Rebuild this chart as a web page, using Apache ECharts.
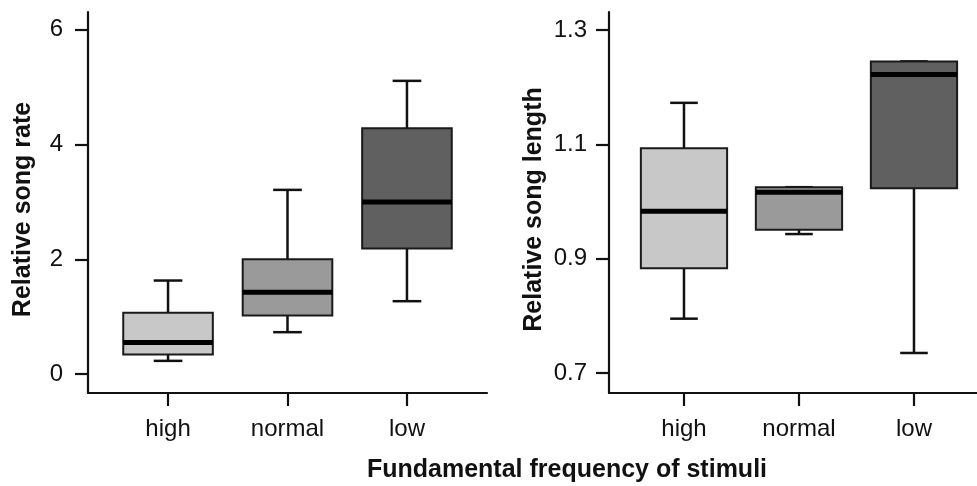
<!DOCTYPE html>
<html>
<head>
<meta charset="utf-8">
<script src="https://cdn.jsdelivr.net/npm/echarts@6/dist/echarts.min.js"></script>
<style>
html,body{margin:0;padding:0;background:#fff;}
#c{width:977px;height:486px;}
</style>
</head>
<body>
<div id="c"></div>
<script>
// ---- data ----
const categories = ['high', 'normal', 'low'];
// [min, Q1, median, Q3, max] per category
const songRate = [
  [0.23, 0.34, 0.55, 1.07, 1.63],
  [0.73, 1.02, 1.425, 2.00, 3.21],
  [1.27, 2.19, 3.00, 4.285, 5.11]
];
const songLength = [
  [0.795, 0.883, 0.983, 1.093, 1.1725],
  [0.943, 0.9507, 1.016, 1.025, 1.025],
  [0.735, 1.023, 1.222, 1.245, 1.245]
];
const rateTicks = [0, 2, 4, 6];
const lengthTicks = [0.7, 0.9, 1.1, 1.3];
const xTitle = 'Fundamental frequency of stimuli';
const rateTitle = 'Relative song rate';
const lengthTitle = 'Relative song length';

// ---- style ----
const fills = ['#c8c8c8', '#9a9a9a', '#606060'];
const FONT = '"Liberation Sans", Arial, Helvetica, sans-serif';
const INK = '#111';

function toItems(stats) {
  return stats.map((s, i) => [i + 1].concat(s));
}

function renderBox(params, api) {
  const x = api.value(0);
  const vMin = api.value(1), q1 = api.value(2), med = api.value(3), q3 = api.value(4), vMax = api.value(5);
  const half = 0.375, capHalf = 0.12;
  const pL = api.coord([x - half, q3]);
  const pR = api.coord([x + half, q1]);
  const cx = api.coord([x, med])[0];
  const cL = api.coord([x - capHalf, med])[0];
  const cR = api.coord([x + capHalf, med])[0];
  const yMin = api.coord([x, vMin])[1];
  const yQ1 = api.coord([x, q1])[1];
  const yMed = api.coord([x, med])[1];
  const yQ3 = api.coord([x, q3])[1];
  const yMax = api.coord([x, vMax])[1];
  const lineStyle = {stroke: INK, lineWidth: 2.5};
  const fill = fills[params.dataIndex];
  return {
    type: 'group',
    children: [
      {type: 'line', shape: {x1: cx, y1: yQ3, x2: cx, y2: yMax}, style: lineStyle},
      {type: 'line', shape: {x1: cx, y1: yQ1, x2: cx, y2: yMin}, style: lineStyle},
      {type: 'line', shape: {x1: cL, y1: yMax, x2: cR, y2: yMax}, style: lineStyle},
      {type: 'line', shape: {x1: cL, y1: yMin, x2: cR, y2: yMin}, style: lineStyle},
      {type: 'rect', shape: {x: pL[0], y: yQ3, width: pR[0] - pL[0], height: yQ1 - yQ3},
        style: {fill: fill, stroke: '#1a1a1a', lineWidth: 2}},
      {type: 'line', shape: {x1: pL[0], y1: yMed, x2: pR[0], y2: yMed}, style: {stroke: '#000', lineWidth: 5}}
    ]
  };
}

function xAxisDef(idx, min, max) {
  return {
    type: 'value', gridIndex: idx, min: min, max: max,
    splitLine: {show: false},
    axisLine: {show: true, onZero: false, lineStyle: {color: INK, width: 2.2}},
    axisTick: {show: true, length: 13, lineStyle: {color: INK, width: 2.2}, customValues: [1, 2, 3]},
    axisLabel: {customValues: [1, 2, 3], margin: 24, color: INK, fontSize: 24, fontFamily: FONT,
      formatter: v => categories[Math.round(v) - 1] || ''}
  };
}

function yAxisDef(idx, min, max, ticks, name, gap, dec, margin) {
  return {
    type: 'value', gridIndex: idx, min: min, max: max,
    name: name, nameLocation: 'middle', nameGap: gap,
    nameTextStyle: {fontSize: 25, fontWeight: 'bold', color: INK, fontFamily: FONT, padding: [0, 0, 0, -14]},
    splitLine: {show: false},
    axisLine: {show: true, onZero: false, lineStyle: {color: INK, width: 2.2}},
    axisTick: {show: true, length: 13, lineStyle: {color: INK, width: 2.2}, customValues: ticks},
    axisLabel: {customValues: ticks, margin: margin, color: INK, fontSize: 24, fontFamily: FONT,
      formatter: v => Number(v).toFixed(dec)}
  };
}

const chart = echarts.init(document.getElementById('c'), null, {renderer: 'canvas'});
chart.setOption({
  animation: false,
  backgroundColor: '#fff',
  grid: [
    {left: 88, top: 12, width: 399, bottom: 93},
    {left: 609, top: 12, right: 0, bottom: 93}
  ],
  xAxis: [xAxisDef(0, 0.33, 3.67), xAxisDef(1, 0.348, 3.548)],
  yAxis: [
    yAxisDef(0, -0.33, 6.31, rateTicks, rateTitle, 52, 0, 25),
    yAxisDef(1, 0.665, 1.3314, lengthTicks, lengthTitle, 62, 1, 22)
  ],
  series: [
    {type: 'custom', xAxisIndex: 0, yAxisIndex: 0, renderItem: renderBox,
      encode: {x: 0, y: [1, 2, 3, 4, 5]}, data: toItems(songRate)},
    {type: 'custom', xAxisIndex: 1, yAxisIndex: 1, renderItem: renderBox,
      encode: {x: 0, y: [1, 2, 3, 4, 5]}, data: toItems(songLength)}
  ],
  graphic: [
    {type: 'text', x: 567, y: 470,
      style: {text: xTitle, fill: INK, font: 'bold 25px ' + FONT, align: 'center', verticalAlign: 'middle'}}
  ]
});
</script>
</body>
</html>
